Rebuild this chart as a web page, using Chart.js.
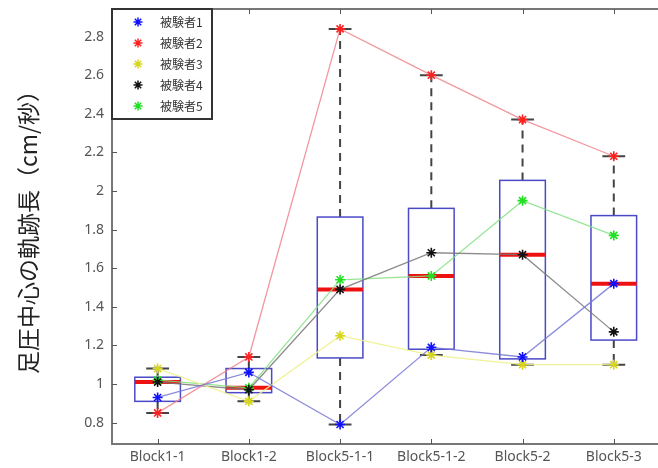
<!DOCTYPE html>
<html>
<head>
<meta charset="utf-8">
<script src="https://cdn.jsdelivr.net/npm/chart.js@4/dist/chart.umd.min.js"></script>
<style>
  html, body { margin: 0; padding: 0; background: #fff; overflow: hidden; }
  #wrap { width: 666px; height: 468px; }
</style>
</head>
<body>
<div id="wrap"><canvas id="chart"></canvas></div>
<script>
// data
const categories = ['Block1-1', 'Block1-2', 'Block5-1-1', 'Block5-1-2', 'Block5-2', 'Block5-3'];
const subjects = ['被験者1', '被験者2', '被験者3', '被験者4', '被験者5'];
const s1 = [0.93, 1.06, 0.79, 1.19, 1.14, 1.52];
const s2 = [0.85, 1.14, 2.84, 2.60, 2.37, 2.18];
const s3 = [1.08, 0.91, 1.25, 1.15, 1.10, 1.10];
const s4 = [1.01, 0.97, 1.49, 1.68, 1.67, 1.27];
const s5 = [1.02, 0.98, 1.54, 1.56, 1.95, 1.77];
const yTicks = [0.8, 1, 1.2, 1.4, 1.6, 1.8, 2, 2.2, 2.4, 2.6, 2.8];
const yMin = 0.689;
const yMax = 2.943;

const series = [s1, s2, s3, s4, s5];
const pointColors = ['#1010ff', '#ff2020', '#d6d620', '#111111', '#20e020'];
const lineColors = ['rgba(120,120,215,0.85)', 'rgba(240,125,135,0.8)', 'rgba(240,240,140,0.9)', 'rgba(120,120,120,0.85)', 'rgba(130,225,130,0.85)'];

// matlab style percentile
function pct(sorted, p) {
  const n = sorted.length;
  const pos = p / 100 * n + 0.5;
  if (pos <= 1) return sorted[0];
  if (pos >= n) return sorted[n - 1];
  const i = Math.floor(pos);
  return sorted[i - 1] + (pos - i) * (sorted[i] - sorted[i - 1]);
}

const boxPlugin = {
  id: 'boxes',
  beforeDatasetsDraw(chart) {
    const ctx = chart.ctx;
    const x = chart.scales.x, y = chart.scales.y;
    const area = chart.chartArea;
    const step = x.getPixelForValue(1) - x.getPixelForValue(0);
    ctx.save();

    // frame
    ctx.strokeStyle = '#777';
    ctx.lineWidth = 2;
    ctx.beginPath();
    ctx.moveTo(area.right + 2, area.top);
    ctx.lineTo(area.left, area.top);
    ctx.lineTo(area.left, area.bottom);
    ctx.lineTo(area.right + 2, area.bottom);
    ctx.stroke();

    // tick marks pointing inward
    ctx.lineWidth = 1;
    ctx.strokeStyle = '#555';
    ctx.beginPath();
    yTicks.forEach(v => {
      const py = Math.round(y.getPixelForValue(v)) + 0.5;
      ctx.moveTo(area.left, py);
      ctx.lineTo(area.left + 5, py);
    });
    categories.forEach((c, i) => {
      const px = Math.round(x.getPixelForValue(i)) + 0.5;
      ctx.moveTo(px, area.bottom);
      ctx.lineTo(px, area.bottom - 5);
      ctx.moveTo(px, area.top);
      ctx.lineTo(px, area.top + 5);
    });
    ctx.stroke();

    categories.forEach((c, i) => {
      const vals = series.map(s => s[i]).sort((a, b) => a - b);
      const q1 = pct(vals, 25), med = pct(vals, 50), q3 = pct(vals, 75);
      const iqr = q3 - q1;
      const inside = vals.filter(v => v >= q1 - 1.5 * iqr && v <= q3 + 1.5 * iqr);
      const lo = inside[0], hi = inside[inside.length - 1];
      const cx = x.getPixelForValue(i);
      const half = step / 4, cap = step / 8;

      // whiskers
      ctx.strokeStyle = '#444';
      ctx.lineWidth = 2;
      ctx.setLineDash([8, 6]);
      ctx.beginPath();
      ctx.moveTo(cx, y.getPixelForValue(q3));
      ctx.lineTo(cx, y.getPixelForValue(hi));
      ctx.moveTo(cx, y.getPixelForValue(q1));
      ctx.lineTo(cx, y.getPixelForValue(lo));
      ctx.stroke();
      ctx.setLineDash([]);
      ctx.beginPath();
      ctx.moveTo(cx - cap, y.getPixelForValue(hi));
      ctx.lineTo(cx + cap, y.getPixelForValue(hi));
      ctx.moveTo(cx - cap, y.getPixelForValue(lo));
      ctx.lineTo(cx + cap, y.getPixelForValue(lo));
      ctx.stroke();

      // box
      ctx.strokeStyle = '#4a4ac8';
      ctx.lineWidth = 1.5;
      const top = y.getPixelForValue(q3), bot = y.getPixelForValue(q1);
      ctx.strokeRect(cx - half, top, half * 2, bot - top);

      // median
      ctx.strokeStyle = '#ee1111';
      ctx.lineWidth = 4;
      ctx.beginPath();
      ctx.moveTo(cx - half, y.getPixelForValue(med));
      ctx.lineTo(cx + half, y.getPixelForValue(med));
      ctx.stroke();
    });
    ctx.restore();
  },
  afterDraw(chart) {
    // legend box in the upper left corner
    const ctx = chart.ctx;
    const area = chart.chartArea;
    const lx = area.left, ly = area.top;
    ctx.save();
    ctx.fillStyle = '#fff';
    ctx.fillRect(lx, ly, 100, 110);
    ctx.strokeStyle = '#333';
    ctx.lineWidth = 2;
    ctx.strokeRect(lx, ly, 100, 110);
    ctx.font = '12px "Noto Sans CJK JP"';
    ctx.textBaseline = 'middle';
    chart.data.datasets.forEach((ds, i) => {
      const ry = ly + 13 + i * 21;
      ctx.strokeStyle = ds.pointBorderColor;
      ctx.fillStyle = ds.pointBorderColor;
      ctx.lineWidth = 1.5;
      Chart.helpers.drawPoint(ctx, { pointStyle: 'star', radius: 4.5, rotation: 0, borderWidth: 1.5 }, lx + 26, ry);
      ctx.fillStyle = '#333';
      ctx.fillText(ds.label, lx + 48, ry);
    });
    ctx.restore();
  }
};

const datasets = series.map((s, i) => ({
  label: subjects[i],
  data: s,
  borderColor: lineColors[i],
  borderWidth: 1.3,
  pointStyle: 'star',
  pointRadius: 5,
  pointBorderWidth: 1.6,
  pointBorderColor: pointColors[i],
  pointBackgroundColor: pointColors[i],
  tension: 0,
  fill: false
}));

new Chart(document.getElementById('chart'), {
  type: 'line',
  data: { labels: categories, datasets: datasets },
  plugins: [boxPlugin],
  options: {
    responsive: true,
    maintainAspectRatio: false,
    animation: false,
    layout: { padding: { top: 9, left: 0, right: 0, bottom: 0 } },
    plugins: {
      legend: { display: false },
      tooltip: { enabled: false }
    },
    scales: {
      x: {
        type: 'category',
        offset: true,
        grid: { display: false, drawTicks: false },
        border: { display: false },
        ticks: { color: '#555', font: { size: 14, family: 'Noto Sans' }, padding: 5, maxRotation: 0, autoSkip: false },
        afterFit: s => { s.height = 24; s.paddingLeft = 0; s.paddingRight = 0; }
      },
      y: {
        min: yMin,
        max: yMax,
        afterBuildTicks: s => { s.ticks = yTicks.map(v => ({ value: v })); },
        grid: { display: false, drawTicks: false },
        border: { display: false },
        ticks: { color: '#555', font: { size: 14, family: 'Noto Sans' }, padding: 8, callback: v => String(v) },
        title: {
          display: true,
          text: '足圧中心の軌跡長（cm/秒）',
          color: '#222',
          font: { size: 23, family: 'Noto Sans CJK JP' },
          padding: { top: 14, bottom: 0 }
        },
        afterFit: s => { s.width = 112; s.paddingTop = 0; s.paddingBottom = 0; }
      }
    }
  }
});
</script>
</body>
</html>
